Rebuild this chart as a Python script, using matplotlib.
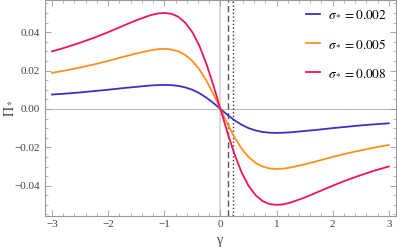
import matplotlib

matplotlib.use("Agg")
import matplotlib.pyplot as plt
from matplotlib.ticker import MultipleLocator

plt.rcParams["mathtext.fontset"] = "stix"
plt.rcParams["font.family"] = ["Liberation Serif", "DejaVu Serif"]

gamma = [-3, -2.75, -2.5, -2.25, -2, -1.75, -1.5, -1.25, -1.125, -1, -0.875,
         -0.75, -0.625, -0.5, -0.375, -0.25, -0.125, 0, 0.125, 0.25, 0.375,
         0.5, 0.625, 0.75, 0.875, 1, 1.125, 1.25, 1.5, 1.75, 2, 2.25, 2.5,
         2.75, 3]

pi_002 = [0.0075, 0.0080, 0.0086, 0.0093, 0.0100, 0.0108, 0.0115, 0.0122,
          0.0124, 0.0125, 0.0124, 0.0120, 0.0112, 0.0100, 0.0082, 0.0059,
          0.0031, 0.0, -0.0031, -0.0059, -0.0082, -0.0100, -0.0112, -0.0120,
          -0.0124, -0.0125, -0.0124, -0.0122, -0.0115, -0.0108, -0.0100,
          -0.0093, -0.0086, -0.0080, -0.0075]
pi_005 = [0.0188, 0.0201, 0.0216, 0.0232, 0.0250, 0.0270, 0.0289, 0.0305,
          0.0311, 0.0313, 0.0310, 0.0300, 0.0281, 0.0250, 0.0206, 0.0147,
          0.0077, 0.0, -0.0077, -0.0147, -0.0206, -0.0250, -0.0281, -0.0300,
          -0.0310, -0.0313, -0.0311, -0.0305, -0.0289, -0.0270, -0.0250,
          -0.0232, -0.0216, -0.0201, -0.0188]
pi_008 = [0.0300, 0.0321, 0.0345, 0.0371, 0.0400, 0.0431, 0.0462, 0.0488,
          0.0497, 0.0500, 0.0496, 0.0480, 0.0449, 0.0400, 0.0329, 0.0235,
          0.0123, 0.0, -0.0123, -0.0235, -0.0329, -0.0400, -0.0449, -0.0480,
          -0.0496, -0.0500, -0.0497, -0.0488, -0.0462, -0.0431, -0.0400,
          -0.0371, -0.0345, -0.0321, -0.0300]

series = [("0.002", pi_002, "#3f2fc4"),
          ("0.005", pi_005, "#ff8f1f"),
          ("0.008", pi_008, "#ee1260")]

dashed_x = 0.137
dotted_x = 0.233

fig = plt.figure(figsize=(3.97, 2.49), dpi=100)
ax = fig.add_axes([0.1134, 0.134, 0.8836, 0.864])

ax.axhline(0, color="#bbbbbb", lw=0.8, zorder=1)
ax.axvline(0, color="#d8d8d8", lw=1.4, zorder=1)
ax.axvline(dashed_x, color="#555555", lw=1.0, dashes=(4.5, 2.5), zorder=1)
ax.axvline(dotted_x, color="#333333", lw=1.0, linestyle=":", zorder=1)

for label, values, color in series:
    ax.plot(gamma, values, color=color, lw=1.3,
            label=r"$\sigma_* = %s$" % label, zorder=3)

ax.set_xlim(-3.125, 3.125)
ax.set_ylim(-0.0556, 0.0565)
ax.xaxis.set_major_locator(MultipleLocator(1))
ax.xaxis.set_minor_locator(MultipleLocator(0.2))
ax.yaxis.set_major_locator(MultipleLocator(0.02))
ax.yaxis.set_minor_locator(MultipleLocator(0.005))
ax.yaxis.set_major_formatter(
    plt.FuncFormatter(lambda v, p: ("%.2f" % v).replace("-", "\u2212")))
ax.xaxis.set_major_formatter(
    plt.FuncFormatter(lambda v, p: ("%d" % round(v)).replace("-", "\u2212")))

ax.tick_params(which="both", direction="in", top=True, right=True,
               colors="#999999", labelcolor="#444444", labelsize=8)
ax.tick_params(which="major", length=4, width=0.6)
ax.tick_params(which="minor", length=2, width=0.5)
for spine in ax.spines.values():
    spine.set_color("#999999")
    spine.set_linewidth(0.8)

ax.set_xlabel("\u03b3", fontsize=10, color="#444444")
ax.set_ylabel(r"$\Pi_*$", fontsize=10, color="#444444")
ax.xaxis.set_label_coords(0.5, -0.085)
ax.yaxis.set_label_coords(-0.082, 0.5)

ax.legend(loc="upper right", frameon=False, fontsize=9.5, handlelength=1.1,
          handletextpad=0.6, labelspacing=1.3, borderaxespad=0.25)

fig.savefig("out.png", dpi=100)
